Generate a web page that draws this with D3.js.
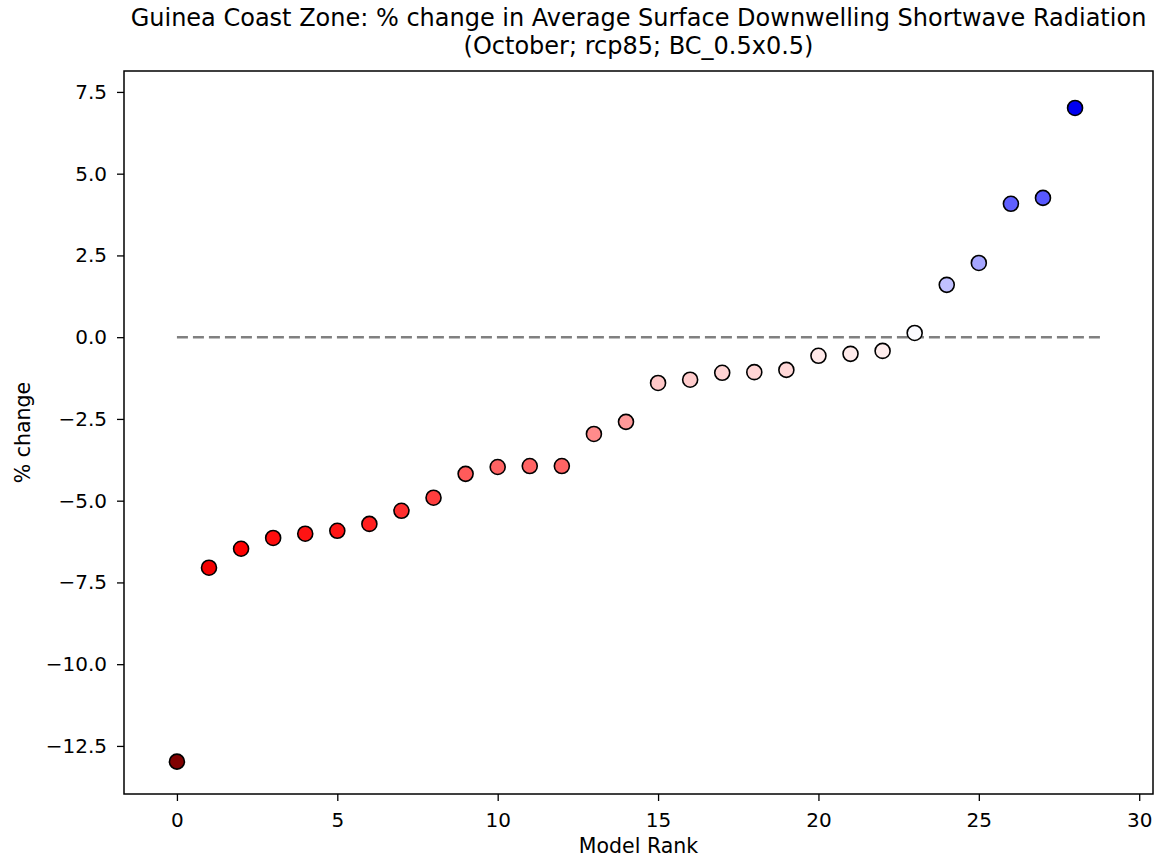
<!DOCTYPE html>
<html>
<head>
<meta charset="utf-8">
<script src="https://cdn.jsdelivr.net/npm/d3@7"></script>
<style>
  html, body { margin: 0; padding: 0; background: #fff; }
  svg { display: block; font-family: "DejaVu Sans", sans-serif; }
</style>
</head>
<body>
<svg id="chart" width="1157" height="859"></svg>
<script>
// Model ranks and their % change in October surface downwelling shortwave radiation
const ranks = [0,1,2,3,4,5,6,7,8,9,10,11,12,13,14,15,16,17,18,19,20,21,22,23,24,25,26,27,28];
const pctChange = [-12.98,-7.05,-6.47,-6.14,-6.01,-5.92,-5.71,-5.31,-4.91,-4.18,-3.97,-3.94,-3.94,-2.96,-2.59,
                   -1.40,-1.30,-1.09,-1.07,-1.00,-0.57,-0.51,-0.42,0.13,1.60,2.27,4.08,4.26,7.01];
const xTicks = [0,5,10,15,20,25,30];
const yTicks = [-12.5,-10.0,-7.5,-5.0,-2.5,0.0,2.5,5.0,7.5];
const titleLines = ["Guinea Coast Zone: % change in Average Surface Downwelling Shortwave Radiation",
                    "(October; rcp85; BC_0.5x0.5)"];
const zeroLine = [0, 28.9];

const svg = d3.select("#chart");
const plot = { left: 124, top: 71, right: 1153, bottom: 794 };

const x = d3.scaleLinear().domain([-1.65, 30.43]).range([plot.left, plot.right]);
const y = d3.scaleLinear().domain([-13.97, 8.14]).range([plot.bottom, plot.top]);

// Seismic colormap, reversed: negative values red, positive blue
const vmax = d3.max(pctChange, d => Math.abs(d));
const color = d3.scaleLinear()
  .domain([-vmax, -vmax / 2, 0, vmax / 2, vmax])
  .range(["#800000", "#ff0000", "#ffffff", "#0000ff", "#00004d"]);

const fmtMinus = s => s.replace("-", "\u2212");

// x axis
const xAxis = svg.append("g")
  .attr("transform", `translate(0,${plot.bottom})`)
  .call(d3.axisBottom(x).tickValues(xTicks).tickFormat(d3.format("d")).tickSize(7).tickPadding(12));
// y axis
const yAxis = svg.append("g")
  .attr("transform", `translate(${plot.left},0)`)
  .call(d3.axisLeft(y).tickValues(yTicks).tickFormat(d => fmtMinus(d3.format(".1f")(d))).tickSize(7).tickPadding(10));

[xAxis, yAxis].forEach(g => {
  g.select(".domain").remove();
  g.selectAll("line").attr("stroke", "#000").attr("stroke-width", 1.3);
  g.selectAll("text").attr("fill", "#000").style("font-size", "20px").style("font-family", "DejaVu Sans");
});

// zero reference line
svg.append("line")
  .attr("x1", x(zeroLine[0])).attr("x2", x(zeroLine[1]))
  .attr("y1", y(0)).attr("y2", y(0))
  .attr("stroke", "#808080").attr("stroke-width", 2.6)
  .attr("stroke-dasharray", "11,5");

// points
svg.append("g").selectAll("circle")
  .data(ranks)
  .join("circle")
  .attr("cx", d => x(d))
  .attr("cy", (d, i) => y(pctChange[i]))
  .attr("r", 7.5)
  .attr("fill", (d, i) => color(pctChange[i]))
  .attr("stroke", "#000").attr("stroke-width", 1.6);

// frame
svg.append("rect")
  .attr("x", plot.left).attr("y", plot.top)
  .attr("width", plot.right - plot.left).attr("height", plot.bottom - plot.top)
  .attr("fill", "none").attr("stroke", "#000").attr("stroke-width", 1.5);

// title
svg.append("g").selectAll("text")
  .data(titleLines)
  .join("text")
  .attr("x", (plot.left + plot.right) / 2)
  .attr("y", (d, i) => 26 + i * 28)
  .attr("text-anchor", "middle")
  .style("font-size", "24px")
  .text(d => d);

// axis labels
svg.append("text")
  .attr("x", (plot.left + plot.right) / 2).attr("y", 853)
  .attr("text-anchor", "middle").style("font-size", "20.5px")
  .text("Model Rank");
svg.append("text")
  .attr("transform", `translate(30,${(plot.top + plot.bottom) / 2}) rotate(-90)`)
  .attr("text-anchor", "middle").style("font-size", "20.5px")
  .text("% change");
</script>
</body>
</html>
